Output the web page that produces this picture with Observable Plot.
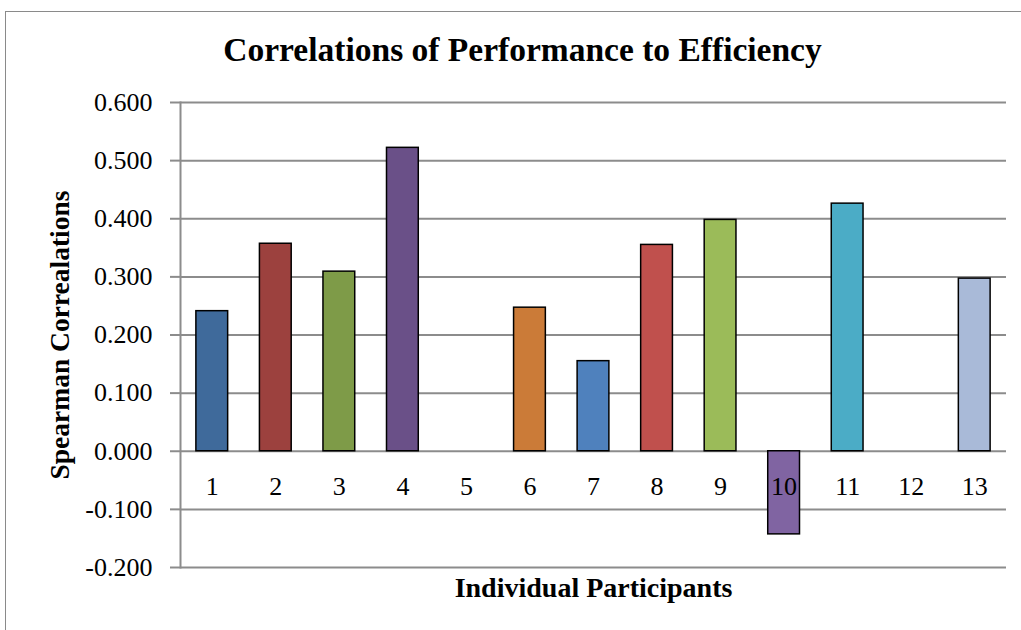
<!DOCTYPE html>
<html>
<head>
<meta charset="utf-8">
<script src="https://cdn.jsdelivr.net/npm/d3@7"></script>
<script src="https://cdn.jsdelivr.net/npm/@observablehq/plot@0.6"></script>
<style>
  html, body { margin: 0; padding: 0; background: #fff; }
  #wrap { position: relative; width: 1021px; height: 630px; overflow: hidden; }
  #border { position: absolute; left: 5px; top: 11px; width: 1100px; height: 700px; border: 1.5px solid #8a8a8a; box-sizing: border-box; }
  #chart { position: absolute; left: 0; top: 0; }
</style>
</head>
<body>
<div id="wrap"><div id="border"></div><div id="chart"></div></div>
<script>
const participants = ["1","2","3","4","5","6","7","8","9","10","11","12","13"];
const correlations = [0.241, 0.357, 0.309, 0.522, 0, 0.247, 0.155, 0.355, 0.398, -0.143, 0.426, 0, 0.297];
const barColors = ["#3F6A9B","#9C413E","#7E9B48","#6A5088","#D08A3F","#CB7B38","#4F81BD","#C0504D","#9BBB59","#8064A2","#4BACC6","#F79646","#A9BAD8"];
const yTicks = [-0.2, -0.1, 0, 0.1, 0.2, 0.3, 0.4, 0.5, 0.6];
const title = "Correlations of Performance to Efficiency";
const yLabel = "Spearman Correalations";
const xLabel = "Individual Participants";

const data = participants.map((p, i) => ({participant: p, value: correlations[i]}));
const font = "Liberation Serif, 'Times New Roman', serif";
const grid = "#8c8c8c";

const chart = Plot.plot({
  width: 1021,
  height: 630,
  marginLeft: 180,
  marginRight: 15,
  marginTop: 102,
  marginBottom: 63,
  style: {fontFamily: font, background: "transparent", color: "black"},
  x: {domain: participants, paddingInner: 0.5, paddingOuter: 0.25, round: false, axis: null},
  y: {domain: [-0.2, 0.6], axis: null},
  color: {domain: participants, range: barColors},
  marks: [
    Plot.ruleY(yTicks, {stroke: grid, strokeWidth: 2}),
    Plot.frame({anchor: "left", stroke: grid, strokeWidth: 2}),
    Plot.axisY({anchor: "left", ticks: yTicks, tickSize: 10, tickPadding: 18, tickFormat: d => d.toFixed(3), stroke: grid, strokeWidth: 2, fontSize: 26, fill: "black", label: null}),
    Plot.barY(data.filter(d => d.value !== 0), {x: "participant", y: "value", fill: "participant", stroke: "black", strokeWidth: 1.5}),
    Plot.text(data, {x: "participant", y: () => 0, text: "participant", dy: 35, fontSize: 26, fill: "black"}),
    Plot.text([title], {frameAnchor: "top-left", dx: 342, dy: -52, fontSize: 33.5, fontWeight: "bold", textAnchor: "middle", lineAnchor: "middle", fill: "black"}),
    Plot.text([xLabel], {frameAnchor: "bottom", dy: 21, fontSize: 28, fontWeight: "bold", textAnchor: "middle", lineAnchor: "middle", fill: "black"}),
    Plot.text([yLabel], {frameAnchor: "left", dx: -120, rotate: -90, fontSize: 27.5, fontWeight: "bold", textAnchor: "middle", lineAnchor: "middle", fill: "black"})
  ]
});
document.getElementById("chart").appendChild(chart);
</script>
</body>
</html>
